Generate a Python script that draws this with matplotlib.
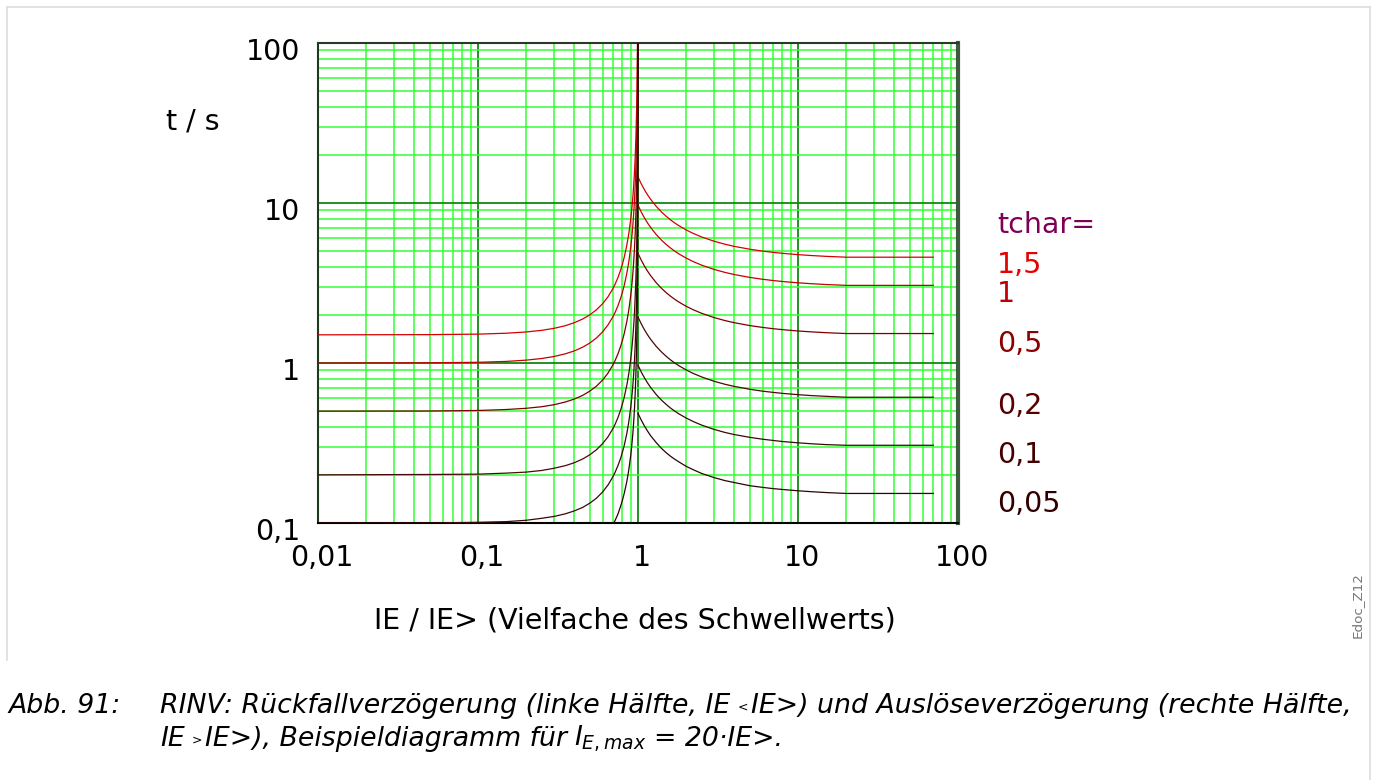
import matplotlib
matplotlib.use("Agg")
import matplotlib.pyplot as plt
from matplotlib.lines import Line2D
import matplotlib.transforms as mtransforms
from matplotlib.ticker import LogLocator, NullFormatter

# ---------------- data ----------------
tchar_labels = ["1,5", "1", "0,5", "0,2", "0,1", "0,05"]

# left half: reset delay (IE < IE>)
x_left = [0.01, 0.05, 0.1, 0.15, 0.2, 0.25, 0.3, 0.35, 0.4, 0.45, 0.5, 0.55, 0.6, 0.65, 0.7,
          0.72, 0.75, 0.78, 0.8, 0.82, 0.85, 0.87, 0.88, 0.9, 0.91, 0.92, 0.93, 0.94, 0.95,
          0.96, 0.97, 0.98, 0.985, 0.99, 0.995, 0.999, 0.9999]
t_left_15 = [1.500, 1.504, 1.515, 1.535, 1.563, 1.600, 1.648, 1.709, 1.786, 1.881, 2.000, 2.151,
             2.344, 2.597, 2.941, 3.115, 3.429, 3.830, 4.167, 4.579, 5.405, 6.170, 6.650, 7.895,
             8.726, 9.766, 11.10, 12.89, 15.38, 19.13, 25.38, 37.88, 50.38, 75.38, 150.4, 750.0,
             7500.0]
t_left_1 = [1.000, 1.003, 1.010, 1.023, 1.042, 1.067, 1.099, 1.140, 1.190, 1.254, 1.333, 1.434,
            1.563, 1.732, 1.961, 2.076, 2.286, 2.554, 2.778, 3.053, 3.604, 4.114, 4.433, 5.263,
            5.817, 6.510, 7.402, 8.591, 10.26, 12.76, 16.92, 25.25, 33.59, 50.25, 100.3, 500.0,
            5000.0]
t_left_05 = [0.500, 0.501, 0.505, 0.512, 0.521, 0.533, 0.549, 0.570, 0.595, 0.627, 0.667, 0.717,
             0.781, 0.866, 0.980, 1.038, 1.143, 1.277, 1.389, 1.526, 1.802, 2.057, 2.216, 2.632,
             2.909, 3.255, 3.701, 4.296, 5.128, 6.378, 8.460, 12.63, 16.79, 25.13, 50.15, 250.0,
             2500.0]
t_left_02 = [0.200, 0.201, 0.202, 0.205, 0.208, 0.213, 0.220, 0.228, 0.238, 0.251, 0.267, 0.287,
             0.313, 0.346, 0.392, 0.415, 0.457, 0.511, 0.556, 0.611, 0.721, 0.823, 0.887, 1.053,
             1.163, 1.302, 1.480, 1.718, 2.051, 2.551, 3.384, 5.050, 6.717, 10.05, 20.06, 100.0,
             1000.0]
t_left_01 = [0.100, 0.100, 0.101, 0.102, 0.104, 0.107, 0.110, 0.114, 0.119, 0.125, 0.133, 0.143,
             0.156, 0.173, 0.196, 0.208, 0.229, 0.255, 0.278, 0.305, 0.360, 0.411, 0.443, 0.526,
             0.582, 0.651, 0.740, 0.859, 1.026, 1.276, 1.692, 2.525, 3.359, 5.025, 10.03, 50.0,
             500.0]
t_left_005 = [0.050, 0.050, 0.051, 0.051, 0.052, 0.053, 0.055, 0.057, 0.060, 0.063, 0.067, 0.072,
              0.078, 0.087, 0.098, 0.104, 0.114, 0.128, 0.139, 0.153, 0.180, 0.206, 0.222, 0.263,
              0.291, 0.326, 0.370, 0.430, 0.513, 0.638, 0.846, 1.263, 1.679, 2.513, 5.015, 25.0,
              250.0]

# right half: trip delay (IE > IE>), limited at IE,max = 20 IE>
x_right = [1.0, 1.02, 1.05, 1.1, 1.15, 1.2, 1.3, 1.4, 1.5, 1.6, 1.7, 1.8, 2, 2.2, 2.5, 3, 3.5,
           4, 5, 6, 7, 8, 10, 12, 15, 20, 70]
t_right_15 = [14.56, 13.94, 13.13, 12.05, 11.21, 10.54, 9.527, 8.802, 8.258, 7.833, 7.493, 7.215,
              6.787, 6.473, 6.132, 5.762, 5.523, 5.357, 5.141, 5.006, 4.914, 4.847, 4.757, 4.698,
              4.640, 4.584, 4.584]
t_right_1 = [9.709, 9.291, 8.753, 8.035, 7.475, 7.026, 6.351, 5.868, 5.505, 5.222, 4.995, 4.810,
             4.525, 4.315, 4.088, 3.841, 3.682, 3.571, 3.427, 3.337, 3.276, 3.231, 3.171, 3.132,
             3.093, 3.056, 3.056]
t_right_05 = [4.854, 4.646, 4.377, 4.018, 3.738, 3.513, 3.175, 2.934, 2.753, 2.611, 2.498, 2.405,
              2.262, 2.158, 2.044, 1.921, 1.841, 1.786, 1.713, 1.669, 1.638, 1.616, 1.585, 1.566,
              1.547, 1.528, 1.528]
t_right_02 = [1.942, 1.858, 1.751, 1.607, 1.495, 1.405, 1.270, 1.174, 1.101, 1.044, 0.999, 0.962,
              0.905, 0.863, 0.818, 0.768, 0.736, 0.714, 0.685, 0.667, 0.655, 0.646, 0.634, 0.626,
              0.619, 0.611, 0.611]
t_right_01 = [0.971, 0.929, 0.875, 0.804, 0.748, 0.703, 0.635, 0.587, 0.551, 0.522, 0.500, 0.481,
              0.453, 0.432, 0.409, 0.384, 0.368, 0.357, 0.343, 0.334, 0.328, 0.323, 0.317, 0.313,
              0.309, 0.306, 0.306]
t_right_005 = [0.485, 0.465, 0.438, 0.402, 0.374, 0.351, 0.318, 0.293, 0.275, 0.261, 0.250, 0.241,
               0.226, 0.216, 0.204, 0.192, 0.184, 0.179, 0.171, 0.167, 0.164, 0.162, 0.159, 0.157,
               0.155, 0.153, 0.153]

x_ticks = [0.01, 0.1, 1, 10, 100]
x_tick_labels = ["0,01", "0,1", "1", "10", "100"]
y_ticks = [0.1, 1, 10, 100]
y_tick_labels = ["0,1", "1", "10", "100"]

# ---------------- styling ----------------
W, H = 1379, 780
FS = 20.5
curve_colors = ["#d40000", "#c40000", "#7a0000", "#4a0808", "#3a0808", "#2a0505"]
label_colors = ["#e60000", "#c00000", "#8b0000", "#580000", "#450000", "#300000"]
label_baselines = [273, 302, 352, 414, 463, 512]

fig = plt.figure(figsize=(W / 100, H / 100), dpi=100)
renderer = fig.canvas.get_renderer()


def fx(x):
    return x / W


def fy(y):
    return 1 - y / H


ax = fig.add_axes([fx(318), fy(523), 640 / W, 480 / H])
ax.set_xscale("log")
ax.set_yscale("log")

lefts = [t_left_15, t_left_1, t_left_05, t_left_02, t_left_01, t_left_005]
rights = [t_right_15, t_right_1, t_right_05, t_right_02, t_right_01, t_right_005]
for tl, tr, c in zip(lefts, rights, curve_colors):
    ax.plot(x_left, tl, color=c, lw=0.9, zorder=3)
    ax.plot(x_right, tr, color=c, lw=0.9, zorder=3)

ax.set_xlim(0.01, 100)
ax.set_ylim(0.1, 100)
ax.set_xticks(x_ticks, labels=x_tick_labels)
ax.set_yticks(y_ticks, labels=y_tick_labels)
for axis in (ax.xaxis, ax.yaxis):
    axis.set_minor_locator(LogLocator(base=10, subs=range(2, 10), numticks=30))
    axis.set_minor_formatter(NullFormatter())
ax.tick_params(which="both", length=0, labelsize=FS)
ax.tick_params(axis="x", pad=15)
ax.tick_params(axis="y", pad=13)
ax.grid(which="minor", color="#33ff33", lw=1.1)
ax.grid(which="major", color="#118811", lw=1.3)
ax.set_axisbelow(True)

for lab in ax.get_xticklabels():
    lab.set_transform(lab.get_transform() + mtransforms.ScaledTranslation(4 / 100, 0, fig.dpi_scale_trans))
for lab in ax.get_yticklabels():
    lab.set_transform(lab.get_transform() + mtransforms.ScaledTranslation(0, -6 / 100, fig.dpi_scale_trans))

ax.spines["left"].set_color("#1c3a1c")
ax.spines["left"].set_linewidth(1.5)
ax.spines["top"].set_color("#2a3a2a")
ax.spines["top"].set_linewidth(1.5)
ax.spines["right"].set_color("#3c5a3c")
ax.spines["right"].set_linewidth(3)
ax.spines["bottom"].set_color("black")
ax.spines["bottom"].set_linewidth(1.5)

# axis titles
fig.text(fx(193), fy(122), "t / s", fontsize=FS, ha="center", va="center")
fig.text(fx(635), fy(620), "IE / IE> (Vielfache des Schwellwerts)", fontsize=FS,
         ha="center", va="center")

# tchar labels
fig.text(fx(997), fy(233), "tchar=", fontsize=FS, color="#800055", ha="left", va="baseline")
for s, c, yb in zip(tchar_labels, label_colors, label_baselines):
    fig.text(fx(997), fy(yb), s, fontsize=FS, color=c, ha="left", va="baseline")

# side code
fig.text(fx(1357), fy(605), "Edoc_Z12", fontsize=9.7, color="#777777", rotation=90,
         ha="center", va="center")

# frame
frame_c = "#dddddd"
fig.add_artist(Line2D([fx(7), fx(1370)], [fy(7), fy(7)], color=frame_c, lw=1.2))
fig.add_artist(Line2D([fx(7), fx(7)], [fy(7), fy(660)], color=frame_c, lw=1.2))
fig.add_artist(Line2D([fx(1370), fx(1370)], [fy(7), fy(780)], color=frame_c, lw=1.2))

# caption
cap_size = 19.25


def seq(x0, ybase, pieces):
    x = x0
    for s, size, dy, gap in pieces:
        t = fig.text(fx(x), fy(ybase + dy), s, fontsize=size, style="italic",
                     ha="left", va="baseline")
        x += t.get_window_extent(renderer).width + gap


sp = 7
seq(8, 713, [("Abb. 91:", cap_size, 0, 0)])
seq(160, 713, [
    ("RINV: Rückfallverzögerung (linke Hälfte, IE", cap_size, 0, sp),
    ("<", 9, -2, 3),
    ("IE>) und Auslöseverzögerung (rechte Hälfte,", cap_size, 0, 0),
])
seq(160, 746, [
    ("IE", cap_size, 0, sp),
    (">", 9, -2, 3),
    ("IE>), Beispieldiagramm für", cap_size, 0, sp),
    (r"$I_{E,max}$", cap_size, 0, sp),
    ("= 20·IE>.", cap_size, 0, 0),
])

fig.savefig("out.png", dpi=100)
